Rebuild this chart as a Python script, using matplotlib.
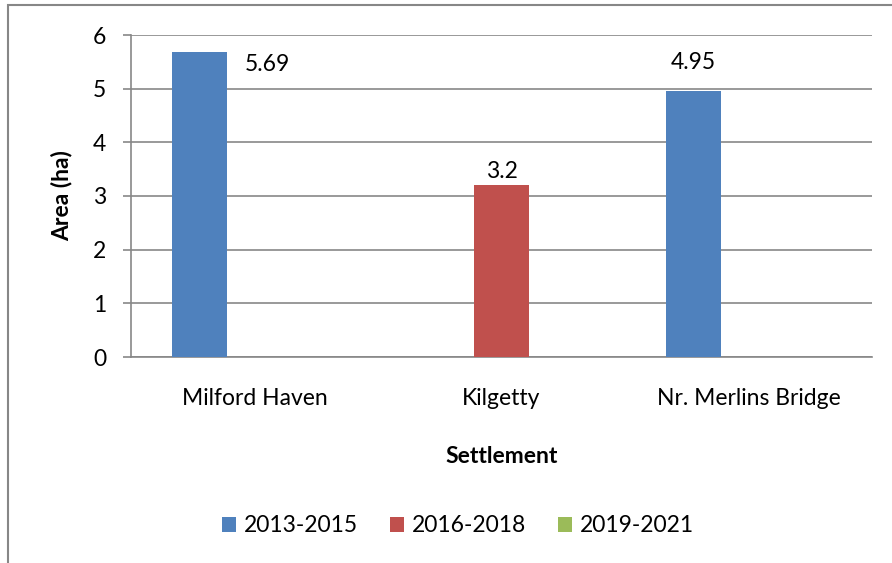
import numpy as np
import matplotlib.pyplot as plt
from matplotlib.patches import Rectangle

settlements = ["Milford Haven", "Kilgetty", "Nr. Merlins Bridge"]
periods = ["2013-2015", "2016-2018", "2019-2021"]
area_2013_2015 = [5.69, 0, 4.95]
area_2016_2018 = [0, 3.2, 0]
area_2019_2021 = [0, 0, 0]
colors = ["#4f81bd", "#c0504d", "#9bbb59"]

plt.rcParams["font.family"] = ["Lato", "DejaVu Sans"]
fs = 16.5

fig = plt.figure(figsize=(8.92, 5.63), dpi=100)
ax = fig.add_axes([131 / 892, 1 - 357 / 563, 741 / 892, 322 / 563])

x = np.arange(len(settlements))
width = 55 / 247
series = [area_2013_2015, area_2016_2018, area_2019_2021]

for i, (vals, name, c) in enumerate(zip(series, periods, colors)):
    ax.bar(x + (i - 1) * width, vals, width, color=c, label=name, zorder=3)

# value labels, nudged like the original workbook
label_offsets = {(0, 0): (68, -13), (1, 1): (0, 14), (0, 2): (0, 29)}
for (si, ci), (dx, dy) in label_offsets.items():
    v = series[si][ci]
    ax.annotate(f"{v:g}", (x[ci] + (si - 1) * width, v), xytext=(dx, dy),
                textcoords="offset pixels", ha="center", va="center",
                fontsize=fs, color="black")

ax.set_xlim(-0.5, 2.5)
ax.set_ylim(0, 6)
ax.set_yticks(range(7))
ax.set_xticks(x)
ax.set_xticklabels(settlements, fontsize=fs)
ax.tick_params(axis="y", labelsize=fs, length=5.8, color="#878787", width=1.2, pad=12)
ax.tick_params(axis="x", length=0, pad=22)
ax.grid(axis="y", color="#878787", linewidth=1.2, zorder=0)
for s in ["top", "right"]:
    ax.spines[s].set_visible(False)
for s in ["left", "bottom"]:
    ax.spines[s].set_color("#878787")
    ax.spines[s].set_linewidth(1.2)

ax.set_ylabel("Area (ha)", fontsize=fs, fontweight="bold", labelpad=15)
ax.set_xlabel("Settlement", fontsize=fs, fontweight="bold", labelpad=27)

ax.legend(loc="center", bbox_to_anchor=(458 / 892, 1 - 526 / 563),
          bbox_transform=fig.transFigure, ncol=3, frameon=False,
          fontsize=fs, handlelength=0.6, handleheight=0.6,
          handletextpad=0.35, columnspacing=1.4)

# chart area border (runs off the right and bottom edges)
fig.patches.append(Rectangle((8 / 892, -0.05), 1.2, 1.05 - 5 / 563,
                             transform=fig.transFigure, fill=False,
                             edgecolor="#878787", linewidth=1.5))

fig.savefig("out.png", dpi=100)
